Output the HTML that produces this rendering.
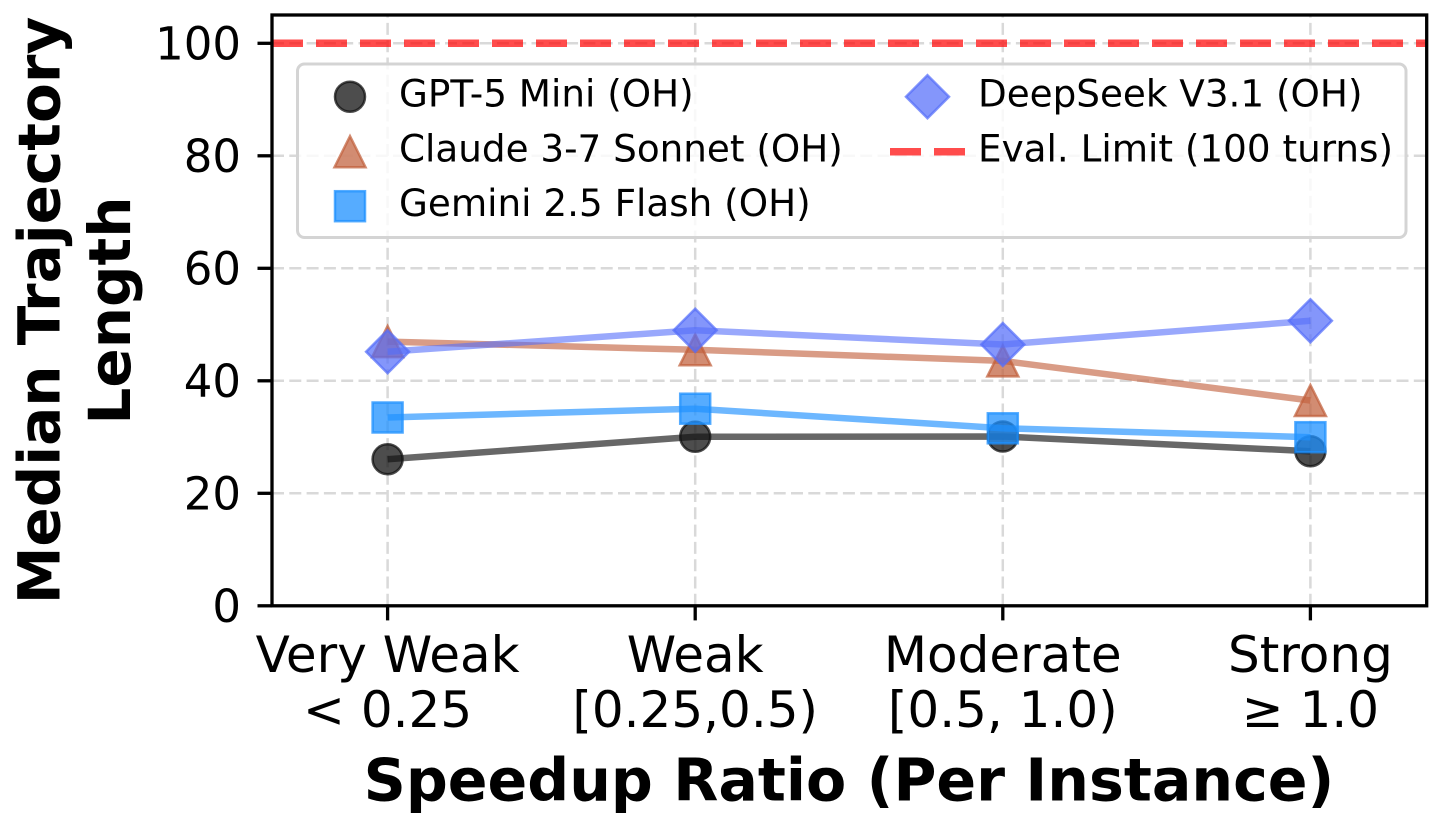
<!DOCTYPE html>
<html>
<head>
<meta charset="utf-8">
<style>
  html, body { margin: 0; padding: 0; background: #ffffff; overflow: hidden; }
  svg { display: block; }
  text { font-family: "DejaVu Sans", "Liberation Sans", sans-serif; fill: #000; }
</style>
</head>
<body>
<svg width="1440" height="827" viewBox="0 0 1440 827" xmlns="http://www.w3.org/2000/svg">
  <rect x="0" y="0" width="1440" height="827" fill="#ffffff"/>

  <!-- grid -->
  <g stroke="#d9d9d9" stroke-width="2.5" stroke-dasharray="12 5.3" fill="none">
    <line x1="272" y1="493.3" x2="1426.7" y2="493.3"/>
    <line x1="272" y1="380.8" x2="1426.7" y2="380.8"/>
    <line x1="272" y1="268.3" x2="1426.7" y2="268.3"/>
    <line x1="272" y1="155.8" x2="1426.7" y2="155.8"/>
    <line x1="272" y1="43.3" x2="1426.7" y2="43.3"/>
    <line x1="387.6" y1="605.8" x2="387.6" y2="15"/>
    <line x1="695.2" y1="605.8" x2="695.2" y2="15"/>
    <line x1="1002.8" y1="605.8" x2="1002.8" y2="15"/>
    <line x1="1310.4" y1="605.8" x2="1310.4" y2="15"/>
  </g>

  <!-- GPT-5 Mini -->
  <polyline points="387.6,459.2 695.2,436.8 1002.8,436.5 1310.4,451.2" fill="none" stroke="#111111" stroke-opacity="0.64" stroke-width="6.5" stroke-linejoin="round"/>
  <g fill="#111111" fill-opacity="0.75" stroke="#111111" stroke-opacity="0.75" stroke-width="2.5">
    <circle cx="387.6" cy="459.2" r="15"/>
    <circle cx="695.2" cy="436.8" r="15"/>
    <circle cx="1002.8" cy="436.5" r="15"/>
    <circle cx="1310.4" cy="451.2" r="15"/>
  </g>

  <!-- Claude 3-7 Sonnet -->
  <polyline points="387.6,341.6 695.2,349.8 1002.8,360.9 1310.4,400.5" fill="none" stroke="#C15F3C" stroke-opacity="0.62" stroke-width="6.5" stroke-linejoin="round"/>
  <g fill="#C15F3C" fill-opacity="0.72" stroke="#C15F3C" stroke-opacity="0.72" stroke-width="2.5" stroke-linejoin="miter">
    <polygon points="387.6,326.1 403.1,357.1 372.1,357.1"/>
    <polygon points="695.2,334.3 710.7,365.3 679.7,365.3"/>
    <polygon points="1002.8,345.4 1018.3,376.4 987.3,376.4"/>
    <polygon points="1310.4,385 1325.9,416 1294.9,416"/>
  </g>

  <!-- Gemini 2.5 Flash -->
  <polyline points="387.6,417.5 695.2,408.7 1002.8,428.3 1310.4,437.2" fill="none" stroke="#1E90FF" stroke-opacity="0.65" stroke-width="6.5" stroke-linejoin="round"/>
  <g fill="#1E90FF" fill-opacity="0.75" stroke="#1E90FF" stroke-opacity="0.75" stroke-width="2.5">
    <rect x="372.6" y="402.5" width="30" height="30"/>
    <rect x="680.2" y="393.7" width="30" height="30"/>
    <rect x="987.8" y="413.3" width="30" height="30"/>
    <rect x="1295.4" y="422.2" width="30" height="30"/>
  </g>

  <!-- DeepSeek V3.1 -->
  <polyline points="387.6,351.7 695.2,330.3 1002.8,344.5 1310.4,320.8" fill="none" stroke="#556EFA" stroke-opacity="0.6" stroke-width="6.5" stroke-linejoin="round"/>
  <g fill="#556EFA" fill-opacity="0.72" stroke="#556EFA" stroke-opacity="0.72" stroke-width="2.5">
    <polygon points="387.6,330.2 409.1,351.7 387.6,373.2 366.1,351.7"/>
    <polygon points="695.2,308.8 716.7,330.3 695.2,351.8 673.7,330.3"/>
    <polygon points="1002.8,323 1024.3,344.5 1002.8,366 981.3,344.5"/>
    <polygon points="1310.4,299.3 1331.9,320.8 1310.4,342.3 1288.9,320.8"/>
  </g>

  <!-- Eval limit line -->
  <line x1="272" y1="43.3" x2="1426.7" y2="43.3" stroke="#ff0000" stroke-opacity="0.7" stroke-width="7.5" stroke-dasharray="31 13"/>

  <!-- spines -->
  <rect x="272" y="15" width="1154.7" height="590.8" fill="none" stroke="#000" stroke-width="3.3"/>

  <!-- ticks -->
  <g stroke="#000" stroke-width="3.3">
    <line x1="257.5" y1="605.8" x2="272" y2="605.8"/>
    <line x1="257.5" y1="493.3" x2="272" y2="493.3"/>
    <line x1="257.5" y1="380.8" x2="272" y2="380.8"/>
    <line x1="257.5" y1="268.3" x2="272" y2="268.3"/>
    <line x1="257.5" y1="155.8" x2="272" y2="155.8"/>
    <line x1="257.5" y1="43.3" x2="272" y2="43.3"/>
    <line x1="387.6" y1="605.8" x2="387.6" y2="620.4"/>
    <line x1="695.2" y1="605.8" x2="695.2" y2="620.4"/>
    <line x1="1002.8" y1="605.8" x2="1002.8" y2="620.4"/>
    <line x1="1310.4" y1="605.8" x2="1310.4" y2="620.4"/>
  </g>
  <g font-size="45" text-anchor="end">
    <text x="241" y="622.2">0</text>
    <text x="241" y="509.7">20</text>
    <text x="241" y="397.2">40</text>
    <text x="241" y="284.7">60</text>
    <text x="241" y="172.2">80</text>
    <text x="241" y="59.7">100</text>
  </g>

  <!-- x tick labels -->
  <g font-size="50" text-anchor="middle">
    <text x="387.6" y="672">Very Weak</text>
    <text x="387.6" y="727">&lt; 0.25</text>
    <text x="695.2" y="672">Weak</text>
    <text x="695.2" y="727">[0.25,0.5)</text>
    <text x="1002.8" y="672">Moderate</text>
    <text x="1002.8" y="727">[0.5, 1.0)</text>
    <text x="1310.4" y="672">Strong</text>
    <text x="1310.4" y="727">≥ 1.0</text>
  </g>

  <!-- axis labels -->
  <text x="849" y="800.7" font-size="58.6" font-weight="bold" text-anchor="middle">Speedup Ratio (Per Instance)</text>
  <text transform="translate(59.3,310.5) rotate(-90)" font-size="58" font-weight="bold" text-anchor="middle">Median Trajectory</text>
  <text transform="translate(130,310.5) rotate(-90)" font-size="58" font-weight="bold" text-anchor="middle">Length</text>

  <!-- legend -->
  <rect x="297.5" y="64" width="1108.5" height="173.5" rx="7" ry="7" fill="#ffffff" fill-opacity="0.8" stroke="#d4d4d4" stroke-width="3"/>
  <circle cx="350" cy="96.7" r="15" fill="#111111" fill-opacity="0.75" stroke="#111111" stroke-opacity="0.75" stroke-width="2.5"/>
  <polygon points="350,136.2 365.5,167.2 334.5,167.2" fill="#C15F3C" fill-opacity="0.72" stroke="#C15F3C" stroke-opacity="0.72" stroke-width="2.5"/>
  <rect x="335" y="191.2" width="30" height="30" fill="#1E90FF" fill-opacity="0.75" stroke="#1E90FF" stroke-opacity="0.75" stroke-width="2.5"/>
  <polygon points="927.5,75.2 949,96.7 927.5,118.2 906,96.7" fill="#556EFA" fill-opacity="0.72" stroke="#556EFA" stroke-opacity="0.72" stroke-width="2.5"/>
  <line x1="890" y1="151.7" x2="965" y2="151.7" stroke="#ff0000" stroke-opacity="0.7" stroke-width="7.5" stroke-dasharray="31 13"/>
  <g font-size="37.3">
    <text x="399" y="106.7">GPT-5 Mini (OH)</text>
    <text x="399" y="161.7">Claude 3-7 Sonnet (OH)</text>
    <text x="399" y="216.2">Gemini 2.5 Flash (OH)</text>
    <text x="978" y="106.7">DeepSeek V3.1 (OH)</text>
    <text x="978" y="161.7">Eval. Limit (100 turns)</text>
  </g>
</svg>
</body>
</html>
